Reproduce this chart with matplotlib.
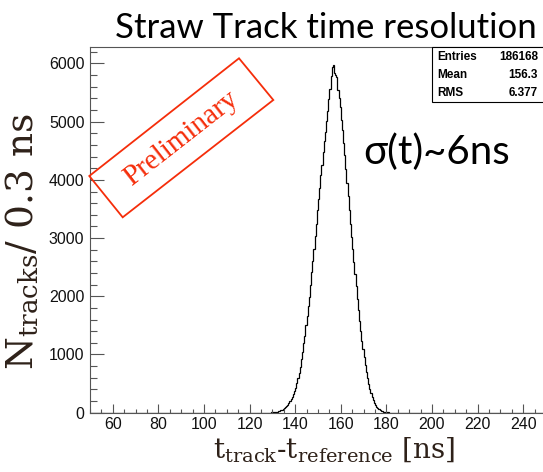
import matplotlib.pyplot as plt
from matplotlib.patches import Polygon, Rectangle
import numpy as np

# histogram: 0.5 ns bins starting at 128 ns
bin_start = 128.0
bin_width = 0.5
counts = [0, 1, 2, 4, 6, 8, 11, 14, 18, 24, 31, 38, 47, 60, 75, 92,
          108, 135, 160, 195, 230, 275, 320, 375, 430, 505, 590, 690,
          790, 920, 1050, 1190, 1320, 1500, 1660, 1830, 1980, 2200, 2410,
          2600, 2810, 3030, 3240, 3480, 3680, 3860, 4080, 4260, 4480, 4660,
          4830, 5010, 5190, 5390, 5560, 5780, 5940, 5970, 5830, 5800, 5760,
          5550, 5400, 5250, 5030, 4850, 4630, 4420, 4180, 3950, 3720, 3480,
          3250, 3020, 2810, 2590, 2380, 2170, 1960, 1760, 1580, 1400, 1240,
          1090, 950, 820, 700, 590, 490, 400, 330, 270, 215, 170, 135, 105,
          82, 62, 47, 36, 27, 20, 14, 10, 7, 4, 2, 1]

x_range = (50, 250)
y_max = 6278

stats_names = ["Entries", "Mean", "RMS"]
stats_values = ["186168", "156.3", "6.377"]

title = "Straw Track time resolution"
sigma_text = "σ(t)~6ns"

W, H = 543, 472
fig = plt.figure(figsize=(W / 100, H / 100), dpi=100)
plt.rcParams['mathtext.fontset'] = 'dejavuserif'


def fx(px):
    return px / W


def fy(py):
    return 1 - py / H


ax = fig.add_axes([fx(90), fy(412.7), 456 / W, (412.7 - 47.3) / H])

# full-range histogram, empty outside the filled region
edges = np.arange(x_range[0], x_range[1] + bin_width / 2, bin_width)
full = np.zeros(len(edges) - 1)
i0 = int(round((bin_start - x_range[0]) / bin_width))
full[i0:i0 + len(counts)] = counts
ax.stairs(full, edges, color='black', lw=0.9)

ax.set_xlim(*x_range)
ax.set_ylim(0, y_max)
ax.set_xticks(np.arange(60, 250, 20))
ax.set_xticks(np.arange(50, 251, 5), minor=True)
ax.set_yticks(np.arange(0, 6001, 1000))
ax.set_yticks(np.arange(0, 6300, 200), minor=True)

ax.tick_params(axis='both', which='both', direction='in', color='#555555',
               width=0.8, labelsize=11.5, labelcolor='#111111')
ax.tick_params(axis='x', which='major', length=6.5, pad=3)
ax.tick_params(axis='x', which='minor', length=3.2)
ax.tick_params(axis='y', which='major', length=10, pad=4)
ax.tick_params(axis='y', which='minor', length=5)
for lab in ax.get_xticklabels() + ax.get_yticklabels():
    lab.set_family('Liberation Sans')
for s in ax.spines.values():
    s.set_color('#555555')
    s.set_linewidth(0.8)
ax.spines['right'].set_visible(False)

brown = '#2e2119'
fig.text(fx(23), fy(242), r'N$_{\mathrm{tracks}}$/ 0.3 ns', rotation=90,
         ha='center', va='center', fontsize=27, color=brown,
         family='DejaVu Serif')
fig.text(fx(334), fy(449), r't$_{\mathrm{track}}$-t$_{\mathrm{reference}}$ [ns]',
         ha='center', va='center', fontsize=20, color=brown,
         family='DejaVu Serif')

fig.text(fx(537), fy(38), title, ha='right', va='baseline', fontsize=25,
         family=['Lato', 'DejaVu Sans'], color='black')
fig.text(fx(437), fy(152), sigma_text, ha='center', va='center', fontsize=29,
         family=['Lato', 'DejaVu Sans'], color='black')

# stats box
fig.patches.append(Rectangle((fx(432), fy(102)), 1.0 - fx(432) + 0.01,
                             (102 - 47.3) / H, transform=fig.transFigure,
                             fc='white', ec='black', lw=0.8))
for k, (n, v) in enumerate(zip(stats_names, stats_values)):
    yy = fy(57.5 + k * 17.5)
    fig.text(fx(437), yy, n, ha='left', va='center', fontsize=8.5,
             weight='bold', family='Liberation Sans')
    fig.text(fx(538), yy, v, ha='right', va='center', fontsize=8.5,
             weight='bold', family='Liberation Sans')

# preliminary stamp
red = '#f52d0a'
corners = [(89.3, 176), (239, 58.3), (273.3, 100), (122.7, 217.3)]
fig.patches.append(Polygon([(fx(a), fy(b)) for a, b in corners], closed=True,
                           transform=fig.transFigure, fill=False, ec=red, lw=1.3))
fig.text(fx(181), fy(138), "Preliminary", rotation=38, ha='center', va='center',
         rotation_mode='anchor', fontsize=21, color=red, family='Liberation Serif')

fig.savefig("out.png", dpi=100)
